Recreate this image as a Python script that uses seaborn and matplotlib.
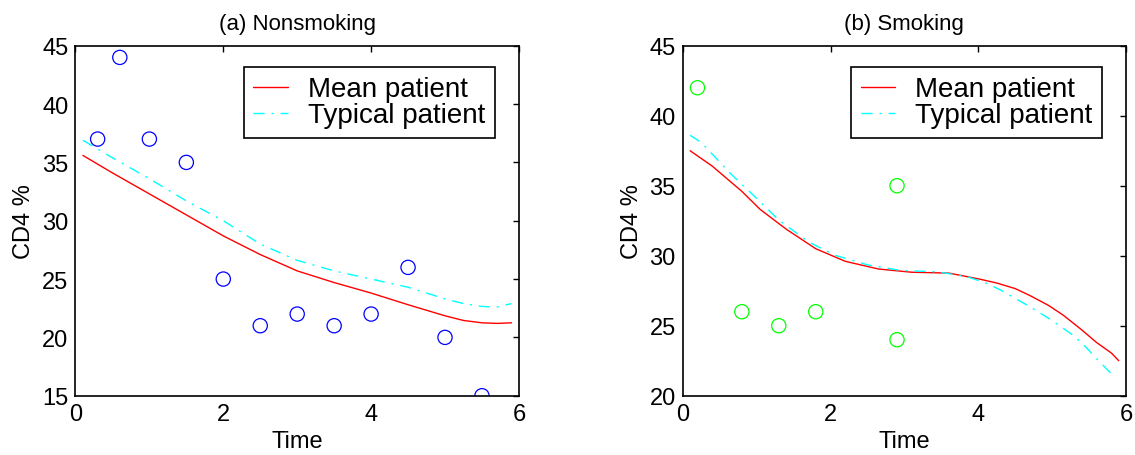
import numpy as np
import pandas as pd
import matplotlib
matplotlib.use("Agg")
import matplotlib.pyplot as plt
import seaborn as sns

# ---- data ----
# (a) Nonsmoking: observed CD4 % and fitted curves
ns_time = [0.3, 0.6, 1.0, 1.5, 2.0, 2.5, 3.0, 3.5, 4.0, 4.5, 5.0, 5.5]
ns_cd4 = [37, 44, 37, 35, 25, 21, 22, 21, 22, 26, 20, 15]

ns_curve_t = [0.1, 0.5, 1.0, 1.5, 2.0, 2.5, 3.0, 3.5, 4.0, 4.5, 5.0, 5.25, 5.5, 5.7, 5.9]
ns_mean = [35.6, 34.1, 32.3, 30.5, 28.7, 27.1, 25.7, 24.7, 23.8, 22.8, 21.85, 21.45, 21.25, 21.2, 21.25]
ns_typical = [36.9, 35.4, 33.6, 31.7, 30.0, 28.0, 26.6, 25.7, 25.0, 24.3, 23.3, 22.9, 22.65, 22.6, 22.9]

# (b) Smoking
sm_time = [0.2, 0.8, 1.3, 1.8, 2.9, 2.9]
sm_cd4 = [42, 26, 25, 26, 35, 24]

sm_mean_t = [0.1, 0.4, 0.8, 1.05, 1.4, 1.8, 2.2, 2.65, 3.1, 3.6, 4.0, 4.25, 4.5,
             4.7, 4.95, 5.15, 5.4, 5.6, 5.8, 5.9]
sm_mean = [37.5, 36.4, 34.6, 33.3, 31.9, 30.5, 29.6, 29.05, 28.82, 28.76, 28.35, 28.05,
           27.65, 27.15, 26.45, 25.75, 24.7, 23.8, 23.05, 22.5]
sm_typ_t = [0.1, 0.25, 0.65, 0.95, 1.3, 1.7, 2.05, 2.5, 2.95, 3.45, 3.85, 4.1, 4.3,
            4.5, 4.7, 4.9, 5.1, 5.3, 5.45, 5.6, 5.83]
sm_typical = [38.6, 38.1, 35.85, 34.35, 32.55, 31.0, 30.05, 29.35, 28.95, 28.85, 28.5,
              28.05, 27.55, 26.95, 26.35, 25.7, 25.0, 24.25, 23.5, 22.65, 21.4]

sns.set_style("white")
plt.rcParams['font.family'] = ['Liberation Sans', 'DejaVu Sans']
plt.rcParams['text.color'] = 'black'
plt.rcParams['axes.labelcolor'] = 'black'

fig = plt.figure(figsize=(11.35, 4.56), dpi=100)
ax_a = fig.add_axes([0.0665, 0.130, 0.3907, 0.7675])
ax_b = fig.add_axes([0.6015, 0.130, 0.3907, 0.7675])

dashdot = (0, (8, 5, 1.5, 5))


def draw_panel(ax, pt_t, pt_y, pt_color, mt, my, tt, ty, title, ylim, yticks):
    sns.scatterplot(x=pt_t, y=pt_y, ax=ax, marker='o', s=105,
                    facecolor='none', edgecolor=pt_color, linewidth=0.9)
    sns.lineplot(x=mt, y=my, ax=ax, color='red', linewidth=1.0,
                 sort=False, estimator=None)
    sns.lineplot(x=tt, y=ty, ax=ax, color='cyan', linewidth=1.0,
                 linestyle=dashdot, sort=False, estimator=None)
    lines = ax.get_lines()
    leg = ax.legend(lines[-2:], ['Mean patient', 'Typical patient'],
                    loc='upper right', bbox_to_anchor=(0.945, 0.94),
                    borderaxespad=0, fontsize=20, frameon=True, fancybox=False,
                    framealpha=1, edgecolor='black', handlelength=1.25,
                    handletextpad=0.7, labelspacing=0.0, borderpad=0.35)
    leg.get_frame().set_linewidth(1.2)
    ax.set_xlim(0, 6)
    ax.set_ylim(*ylim)
    ax.set_xticks([0, 2, 4, 6])
    ax.set_yticks(yticks)
    ax.tick_params(direction='in', top=True, right=True, length=4, width=1,
                   labelsize=17, pad=5, colors='black')
    for sp in ax.spines.values():
        sp.set_visible(True)
        sp.set_color('black')
        sp.set_linewidth(1.2)
    ax.set_title(title, fontsize=16, pad=12, color='black')
    ax.set_xlabel('Time', fontsize=17, labelpad=4)
    ax.set_ylabel('CD4 %', fontsize=17, labelpad=5)


draw_panel(ax_a, ns_time, ns_cd4, 'blue', ns_curve_t, ns_mean, ns_curve_t, ns_typical,
           '(a) Nonsmoking', (15, 45), [15, 20, 25, 30, 35, 40, 45])
draw_panel(ax_b, sm_time, sm_cd4, '#00ff00', sm_mean_t, sm_mean, sm_typ_t, sm_typical,
           '(b) Smoking', (20, 45), [20, 25, 30, 35, 40, 45])

fig.savefig('out.png', dpi=100)
